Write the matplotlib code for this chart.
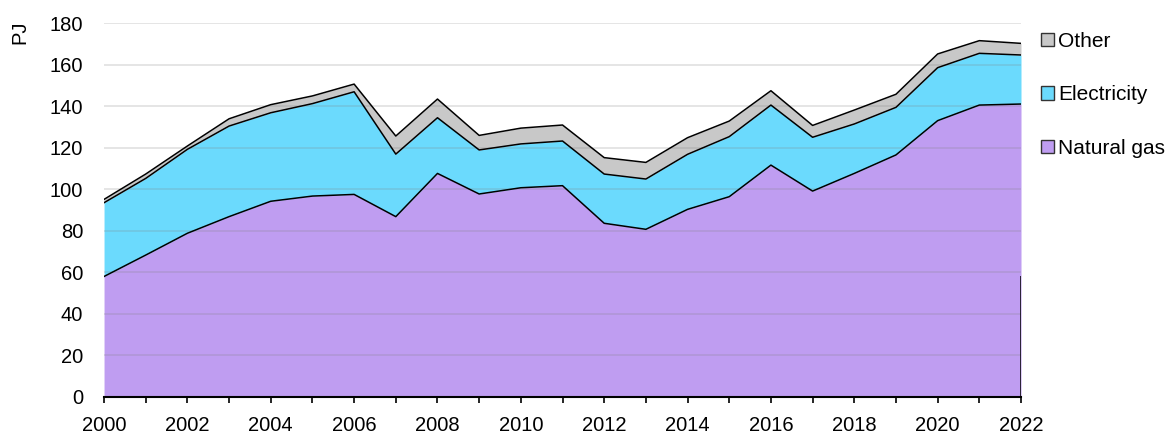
import matplotlib
matplotlib.use("Agg")
import matplotlib.pyplot as plt
from matplotlib.patches import Patch
from matplotlib.ticker import MultipleLocator
import numpy as np

plt.rcParams['font.family'] = ['Liberation Sans', 'DejaVu Sans']

years = list(range(2000, 2023))
natural_gas = [58, 68.3, 78.8, 86.8, 94.2, 96.7, 97.5, 86.8, 107.6, 97.7, 100.7, 101.7,
               83.6, 80.7, 90.3, 96.4, 111.6, 99.1, 107.6, 116.5, 133.0, 140.5, 141.0]
elec_top = [93.5, 105.2, 119.2, 130.4, 136.8, 141.2, 146.9, 116.9, 134.4, 118.9, 121.8, 123.2,
            107.3, 104.9, 116.8, 125.3, 140.5, 125.0, 131.4, 139.4, 158.5, 165.4, 164.6]
total_top = [95.1, 107.3, 120.8, 133.9, 140.7, 144.9, 150.6, 125.6, 143.4, 125.9, 129.4, 130.9,
             115.2, 112.9, 124.8, 132.8, 147.4, 130.7, 138.1, 145.7, 165.1, 171.5, 170.2]
electricity = [e - g for e, g in zip(elec_top, natural_gas)]
other = [t - e for t, e in zip(total_top, elec_top)]

labels = ["Natural gas", "Electricity", "Other"]
colors = ["#BF9DF1", "#6BDAFD", "#C8C8C8"]

fig = plt.figure(figsize=(11.69, 4.34), dpi=100)
ax = fig.add_axes([0.089, 0.0853, 0.7844, 0.8617])

x = np.array(years)
s1 = np.array(natural_gas)
s2 = s1 + np.array(electricity)
s3 = s2 + np.array(other)

ax.fill_between(x, 0, s1, color=colors[0], lw=0, zorder=2)
ax.fill_between(x, s1, s2, color=colors[1], lw=0, zorder=2)
ax.fill_between(x, s2, s3, color=colors[2], lw=0, zorder=2)
for s in (s1, s2, s3):
    ax.plot(x, s, color="black", lw=1.1, zorder=4)
ax.vlines(years[-1], 0, natural_gas[0], color="black", lw=1.1, zorder=4)

ax.set_xlim(2000, 2022)
ax.set_ylim(0, 180)
ax.yaxis.set_major_locator(MultipleLocator(20))
ax.xaxis.set_major_locator(MultipleLocator(2))
ax.xaxis.set_minor_locator(MultipleLocator(1))

for v in range(20, 181, 20):
    ax.axhline(v, color="#808080", alpha=0.24, lw=1.2, zorder=3)

for sp in ("top", "right", "left"):
    ax.spines[sp].set_visible(False)
ax.spines["bottom"].set_color("black")
ax.spines["bottom"].set_linewidth(1.5)
ax.spines["bottom"].set_zorder(5)

ax.tick_params(axis="y", length=0, labelsize=14.5, pad=15)
ax.tick_params(axis="x", which="both", direction="out", length=4.5, width=1.2,
               labelsize=14.5, pad=9)

ax.text(-0.0916, 0.976, "PJ", transform=ax.transAxes, rotation=90, fontsize=14.5,
        ha="center", va="center")

handles = [Patch(facecolor=colors[i], edgecolor="#333333", lw=1) for i in (2, 1, 0)]
ax.legend(handles, [labels[i] for i in (2, 1, 0)], loc="upper left",
          bbox_to_anchor=(1.022, 0.976), frameon=False, fontsize=15,
          handlelength=0.62, handleheight=0.62, handletextpad=0.2, labelspacing=1.65,
          borderaxespad=0, borderpad=0)

fig.savefig("out.png", dpi=100)
